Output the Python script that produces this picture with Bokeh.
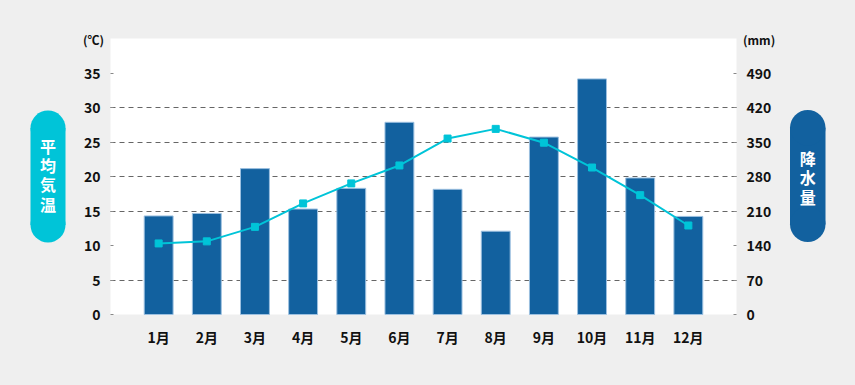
from bokeh.plotting import figure
from bokeh.models import Range1d, LinearAxis, FixedTicker, Grid
from bokeh.core.properties import value
from bokeh.core.templates import get_env
from bokeh.embed import file_html
from bokeh.resources import INLINE

months = ["1月", "2月", "3月", "4月", "5月", "6月", "7月", "8月", "9月", "10月", "11月", "12月"]
temperature = [10.3, 10.6, 12.7, 16.1, 19.0, 21.6, 25.5, 26.9, 24.9, 21.3, 17.3, 12.9]
precipitation = [200, 205, 296, 214, 256, 390, 254, 169, 360, 478, 277, 199]
temp_ticks = [0, 5, 10, 15, 20, 25, 30, 35]
rain_ticks = [0, 70, 140, 210, 280, 350, 420, 490]
temp_grid = [5, 15, 20, 25, 30]
temp_title = "平均気温"
rain_title = "降水量"
temp_unit = "(℃)"
rain_unit = "(mm)"

FONT = "Noto Sans CJK JP"
BG = "#efefef"
DARK = "#12619f"
CYAN = "#00c4d8"

W, H = 855, 385
# plot area (white) in page pixels
PL, PR, PT, PB = 110, 736, 38, 314
XMAX, YMAX = 13, 40
UX = (PR - PL) / XMAX
UY = (PB - PT) / YMAX
RAIN_PER_TEMP = 14

def dx(px):
    return (px - PL) / UX

def dy(py):
    return (PB - py) / UY

x = list(range(1, len(months) + 1))

p = figure(width=W, height=H,
           x_range=Range1d(dx(0), dx(W)), y_range=Range1d(dy(H), dy(0)),
           output_backend="svg", toolbar_location=None, min_border=0,
           background_fill_color=BG, border_fill_color=BG)
p.outline_line_color = None
p.extra_y_ranges = {"mm": Range1d(dy(H) * RAIN_PER_TEMP, dy(0) * RAIN_PER_TEMP)}

# white plot area
p.quad(left=0, right=XMAX, bottom=0, top=YMAX, fill_color="white", line_color=None, level="image")

# grid
p.xgrid.visible = False
g = p.ygrid[0]
g.ticker = FixedTicker(ticks=temp_grid)
g.grid_line_color = "#666666"
g.grid_line_dash = "5 4"
g.grid_line_width = 1
if "cross_bounds" in Grid.properties():
    g.cross_bounds = (0, XMAX)
    g.bounds = (0, YMAX)
else:
    g.visible = False
    p.segment(x0=0, x1=XMAX, y0=temp_grid, y1=temp_grid, line_color="#666666",
              line_dash="5 4", line_width=1, level="underlay")

p.vbar(x=x, top=precipitation, width=0.6, y_range_name="mm",
       fill_color=DARK, line_color="#9cc0e0", line_width=1)
p.line(x, temperature, line_color=CYAN, line_width=2)
p.scatter(x, temperature, marker="square", size=7, fill_color=CYAN, line_color=CYAN)

def style_axis(ax, standoff):
    ax.axis_line_color = None
    ax.major_tick_in = 3
    ax.major_tick_out = 0
    ax.major_tick_line_color = "#888888"
    ax.minor_tick_line_color = None
    ax.major_label_text_font = FONT
    ax.major_label_text_font_size = "14px"
    ax.major_label_text_font_style = "bold"
    ax.major_label_text_color = "#111111"
    ax.major_label_standoff = standoff

xa = p.xaxis[0]
xa.ticker = FixedTicker(ticks=x)
xa.major_label_overrides = {i: m for i, m in zip(x, months)}
xa.fixed_location = 0
style_axis(xa, 12)
xa.major_tick_line_color = None

ya = p.yaxis[0]
ya.ticker = FixedTicker(ticks=temp_ticks)
ya.fixed_location = 0
style_axis(ya, 10)

ax_r = LinearAxis(y_range_name="mm", ticker=FixedTicker(ticks=rain_ticks), fixed_location=XMAX)
style_axis(ax_r, 10)
p.add_layout(ax_r, "right")

# unit labels
p.text(x=[dx(103.5)], y=[dy(38.5)], text=[temp_unit], text_align="right", text_baseline="middle",
       text_font=value(FONT), text_font_size="12px", text_font_style="bold", text_color="#111111")
p.text(x=[dx(742.5)], y=[dy(38.5)], text=[rain_unit], text_align="left", text_baseline="middle",
       text_font=value(FONT), text_font_size="12px", text_font_style="bold", text_color="#111111")

# pills (rounded bars)
def pill(left, right, top, bottom, color):
    r = (right - left) / 2
    p.quad(left=dx(left), right=dx(right), top=dy(top + r), bottom=dy(bottom - r),
           fill_color=color, line_color=None)
    p.scatter(x=[dx((left + right) / 2)] * 2, y=[dy(top + r), dy(bottom - r)], marker="circle",
              size=right - left, fill_color=color, line_color=None)

pill(30, 65, 110, 242, CYAN)
pill(789.5, 825, 109.5, 241.5, DARK)

p.text(x=[dx(47.5)] * len(temp_title), y=[dy(145.5 + i * 19.2) for i in range(len(temp_title))],
       text=list(temp_title), text_align="center", text_baseline="middle", text_font=value(FONT),
       text_font_size="16px", text_font_style="bold", text_color="white")
p.text(x=[dx(807.2)] * len(rain_title), y=[dy(157 + i * 19.5) for i in range(len(rain_title))],
       text=list(rain_title), text_align="center", text_baseline="middle", text_font=value(FONT),
       text_font_size="16px", text_font_style="bold", text_color="white")

tmpl = get_env().from_string(
    "{% extends 'file.html' %}{% block preamble %}<style>html,body{background:#efefef;margin:0;}</style>{% endblock %}")

open("out.html", "w").write(file_html(p, INLINE, template=tmpl))
